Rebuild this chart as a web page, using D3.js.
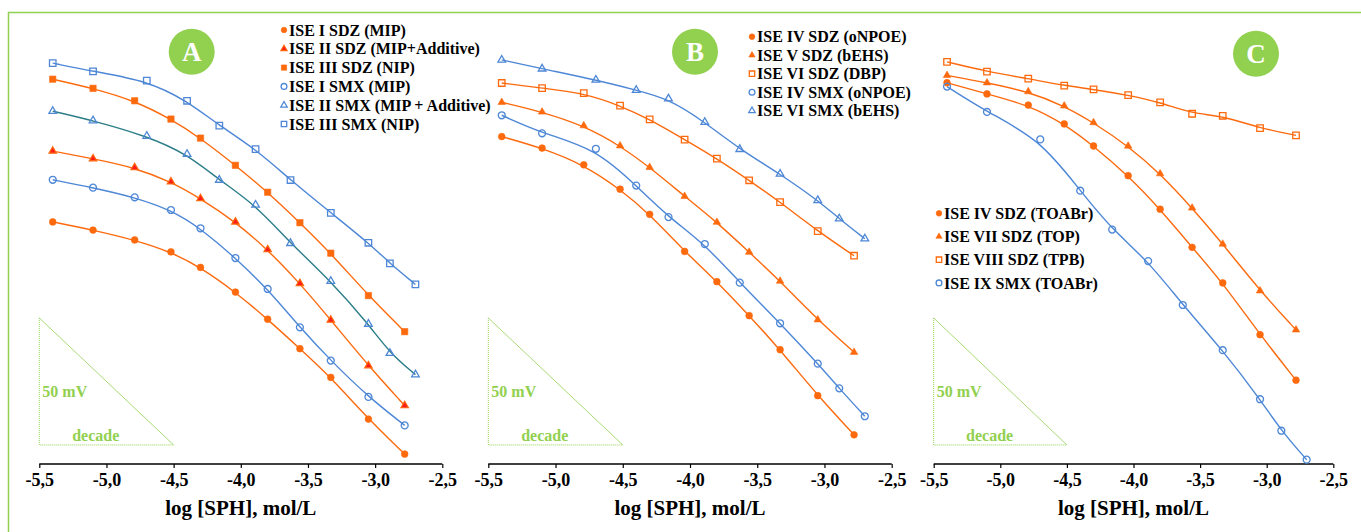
<!DOCTYPE html>
<html>
<head>
<meta charset="utf-8">
<script src="https://cdn.jsdelivr.net/npm/d3@7"></script>
<style>
body { margin: 0; background: #fff; }
text { font-family: "Liberation Serif", "Times New Roman", serif; font-weight: bold; }
</style>
</head>
<body>
<div id="chart"></div>
<script>
// log concentrations used for the two drug families
var xSMX = [-5.40, -5.10, -4.70, -4.40, -4.16, -3.89, -3.63, -3.33, -3.05, -2.89, -2.70];
var xSDZ = [-5.40, -5.10, -4.79, -4.52, -4.30, -4.04, -3.80, -3.56, -3.33, -3.05, -2.78];
var xTicks = [-5.5, -5.0, -4.5, -4.0, -3.5, -3.0, -2.5];

// potentials, mV (relative, no axis in the figure)
var a_I_SDZ   = [95.3, 92.1, 88.2, 83.5, 77.4, 67.7, 57.0, 45.4, 34.1, 17.7, 3.9];
var a_II_SDZ  = [123.2, 120.2, 116.7, 111.1, 104.5, 95.3, 84.4, 71.1, 56.7, 38.7, 23.0];
var a_III_SDZ = [151.5, 147.9, 143.0, 135.8, 128.3, 117.6, 107.0, 95.0, 83.0, 66.3, 52.1];
var a_I_SMX   = [111.9, 108.8, 105.0, 100.0, 92.8, 81.1, 68.9, 53.8, 40.7, 26.4, 15.2];
var a_II_SMX  = [138.9, 135.2, 129.1, 122.0, 111.8, 102.0, 86.9, 72.0, 55.1, 43.6, 35.2];
var a_III_SMX = [157.8, 154.6, 150.9, 143.0, 133.2, 124.0, 111.8, 98.9, 87.1, 79.0, 70.7];

var b_IV_SDZ  = [128.9, 124.4, 117.8, 108.2, 98.3, 83.7, 71.8, 58.4, 45.0, 26.9, 11.5];
var b_V_SDZ   = [142.4, 138.6, 133.2, 125.3, 116.8, 105.4, 95.2, 83.4, 72.0, 56.8, 44.0];
var b_VI_SDZ  = [150.0, 148.0, 146.0, 141.1, 135.7, 127.7, 120.2, 111.7, 103.1, 91.7, 82.0];
var b_IV_SMX  = [137.3, 130.2, 124.1, 109.6, 97.2, 86.6, 71.4, 55.4, 39.5, 29.8, 18.8];
var b_VI_SMX  = [159.1, 155.6, 151.2, 147.2, 143.8, 134.6, 123.9, 114.2, 103.8, 96.6, 88.7];

var c_IV_SDZ   = [150.1, 145.7, 141.3, 133.9, 125.2, 113.5, 100.3, 85.3, 71.3, 50.9, 33.0];
var c_VII_SDZ  = [153.0, 150.1, 146.6, 141.0, 134.4, 125.2, 114.3, 100.8, 86.6, 68.2, 52.8];
var c_VIII_SDZ = [158.3, 154.5, 151.7, 149.0, 147.5, 145.2, 142.4, 137.9, 137.1, 132.2, 129.4];
var c_IX_SMX   = [148.6, 138.6, 127.8, 107.6, 92.3, 79.9, 62.6, 44.8, 25.5, 13.1, 1.7];

var orange = "#fd6a0e", blue = "#4d87d6", teal = "#2b7d88", green = "#92d050";

var panels = [
	{letter: "A", x0: 39.3, x1: 442.3, cx: 191.7, cy: 51.7,
	 legend: {x: 284, y: 30, dy: 18.8},
	 series: [
		{name: "ISE I SDZ (MIP)", x: xSDZ, y: a_I_SDZ, sym: "circle", fill: true, color: orange},
		{name: "ISE II SDZ (MIP+Additive)", x: xSDZ, y: a_II_SDZ, sym: "triangle", fill: true, color: orange, inner: "#ff1a1a"},
		{name: "ISE III SDZ (NIP)", x: xSDZ, y: a_III_SDZ, sym: "square", fill: true, color: orange},
		{name: "ISE I SMX (MIP)", x: xSDZ, y: a_I_SMX, sym: "circle", fill: false, color: blue},
		{name: "ISE II SMX (MIP + Additive)", x: xSMX, y: a_II_SMX, sym: "triangle", fill: false, color: blue, line: teal},
		{name: "ISE III SMX (NIP)", x: xSMX, y: a_III_SMX, sym: "square", fill: false, color: blue}
	]},
	{letter: "B", x0: 488.3, x1: 891.7, cx: 695, cy: 51.7,
	 legend: {x: 752, y: 36.7, dy: 18.5},
	 series: [
		{name: "ISE IV SDZ (oNPOE)", x: xSDZ, y: b_IV_SDZ, sym: "circle", fill: true, color: orange},
		{name: "ISE V SDZ (bEHS)", x: xSDZ, y: b_V_SDZ, sym: "triangle", fill: true, color: orange},
		{name: "ISE VI SDZ (DBP)", x: xSDZ, y: b_VI_SDZ, sym: "square", fill: false, color: orange},
		{name: "ISE IV SMX (oNPOE)", x: xSMX, y: b_IV_SMX, sym: "circle", fill: false, color: blue},
		{name: "ISE VI SMX (bEHS)", x: xSMX, y: b_VI_SMX, sym: "triangle", fill: false, color: blue}
	]},
	{letter: "C", x0: 933.7, x1: 1333.3, cx: 1256, cy: 53.7,
	 legend: {x: 939, y: 213.3, dy: 23.2},
	 series: [
		{name: "ISE IV SDZ (TOABr)", x: xSDZ, y: c_IV_SDZ, sym: "circle", fill: true, color: orange},
		{name: "ISE VII SDZ (TOP)", x: xSDZ, y: c_VII_SDZ, sym: "triangle", fill: true, color: orange},
		{name: "ISE VIII SDZ (TPB)", x: xSDZ, y: c_VIII_SDZ, sym: "square", fill: false, color: orange},
		{name: "ISE IX SMX (TOABr)", x: xSMX, y: c_IX_SMX, sym: "circle", fill: false, color: blue}
	]}
];

var width = 1361, height = 532, axisY = 464;

var svg = d3.select("#chart").append("svg")
	.attr("width", width)
	.attr("height", height);

// green frame (top and left edge visible)
svg.append("path")
	.attr("d", "M8.5," + height + "V12.5H" + width)
	.attr("fill", "none")
	.attr("stroke", green)
	.attr("stroke-width", 1.5);

// common potential scale: 50 mV = 127 px
var y = d3.scaleLinear().domain([0, 50]).range([axisY, axisY - 127]);

var symTypes = {circle: d3.symbolCircle, triangle: d3.symbolTriangle, square: d3.symbolSquare};
var symSize = {circle: 36, triangle: 24, square: 40};

function drawMarker(g, s, px, py, scale) {
	var k = scale || 1;
	var open = !s.fill;
	var sym = d3.symbol().type(symTypes[s.sym]).size(symSize[s.sym] * k * (open ? 1.05 : 1));
	g.append("path")
		.attr("d", sym())
		.attr("transform", "translate(" + px + "," + py + ")")
		.attr("fill", open ? "#fff" : (s.inner || s.color))
		.attr("fill-opacity", open ? 0 : 1)
		.attr("stroke", s.color)
		.attr("stroke-width", open ? 1.3 : (s.inner ? 1.2 : 0.6));
}

panels.forEach(function(p) {
	var x = d3.scaleLinear().domain([-5.5, -2.5]).range([p.x0, p.x1]);
	var g = svg.append("g");

	// x axis
	var ax = g.append("g")
		.attr("transform", "translate(0," + axisY + ")")
		.call(d3.axisBottom(x).tickValues(xTicks).tickSize(4).tickSizeOuter(4)
			.tickFormat(function(d) { return d.toFixed(1).replace(".", ","); }));
	ax.select(".domain").attr("stroke", "#000").attr("stroke-width", 1.5)
		.attr("d", "M" + x(-5.5) + ",0H" + x(-2.5));
	ax.selectAll(".tick line").attr("stroke", "#000").attr("stroke-width", 1.2);
	ax.selectAll(".tick text")
		.attr("y", 9)
		.attr("fill", "#000")
		.style("font-size", "18px")
		.style("font-family", "Liberation Serif, serif")
		.style("font-weight", "bold");

	g.append("text")
		.attr("x", (p.x0 + p.x1) / 2)
		.attr("y", 515)
		.attr("text-anchor", "middle")
		.style("font-size", "21px")
		.text("log [SPH], mol/L");

	// 50 mV / decade triangle
	var tb = 7.5;
	var tri = g.append("g").attr("fill", "none").attr("stroke", green);
	tri.append("path")
		.attr("d", "M" + x(-5.5) + "," + y(tb + 50) + "V" + y(tb) + "H" + x(-4.5))
		.attr("stroke-width", 1)
		.attr("stroke-dasharray", "1,1");
	tri.append("path")
		.attr("d", "M" + x(-5.5) + "," + y(tb + 50) + "L" + x(-4.5) + "," + y(tb))
		.attr("stroke-width", 0.8);
	g.append("text")
		.attr("x", x(-5.5) + 3)
		.attr("y", y(tb) - 48)
		.attr("fill", green)
		.style("font-size", "16px")
		.text("50 mV");
	g.append("text")
		.attr("x", x(-5.08))
		.attr("y", y(tb) - 4)
		.attr("text-anchor", "middle")
		.attr("fill", green)
		.style("font-size", "16px")
		.text("decade");

	// curves and markers
	var line = d3.line()
		.x(function(d) { return x(d[0]); })
		.y(function(d) { return y(d[1]); })
		.curve(d3.curveBasis);

	p.series.forEach(function(s) {
		var pts = s.x.map(function(v, i) { return [v, s.y[i]]; });
		g.append("path")
			.datum(pts)
			.attr("d", line)
			.attr("fill", "none")
			.attr("stroke", s.line || s.color)
			.attr("stroke-width", 1.4);
		pts.forEach(function(d) {
			drawMarker(g, s, x(d[0]), y(d[1]));
		});
	});

	// legend
	p.series.forEach(function(s, i) {
		var ly = p.legend.y + i * p.legend.dy;
		drawMarker(g, s, p.legend.x, ly, 0.7);
		g.append("text")
			.attr("x", p.legend.x + 5)
			.attr("y", ly)
			.attr("dy", "0.35em")
			.style("font-size", "16px")
			.text(s.name);
	});

	// panel letter badge
	g.append("circle")
		.attr("cx", p.cx)
		.attr("cy", p.cy)
		.attr("r", 23)
		.attr("fill", green);
	g.append("text")
		.attr("x", p.cx)
		.attr("y", p.cy)
		.attr("dy", "0.36em")
		.attr("text-anchor", "middle")
		.attr("fill", "#fff")
		.style("font-size", "27px")
		.text(p.letter);
});
</script>
</body>
</html>
